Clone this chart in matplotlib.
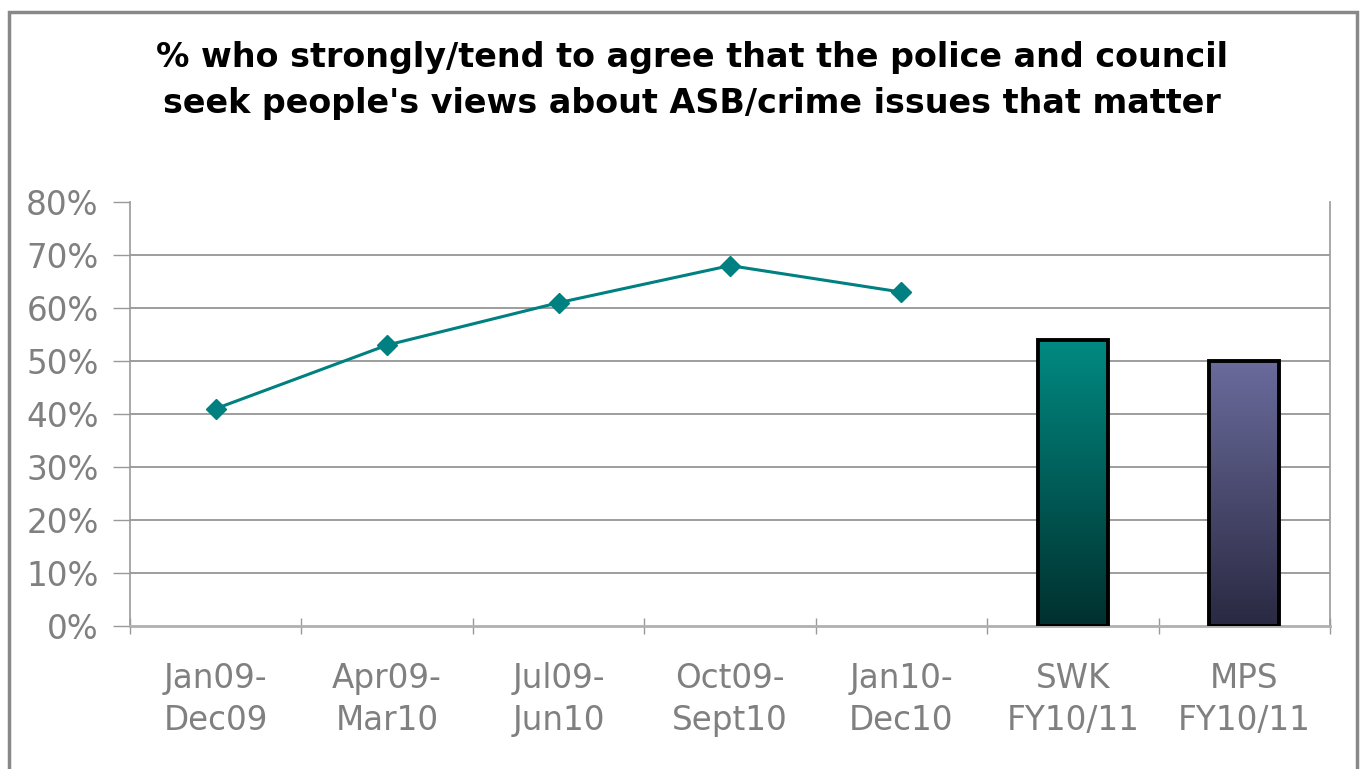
import numpy as np
import matplotlib.pyplot as plt
from matplotlib.colors import LinearSegmentedColormap
from matplotlib.patches import Rectangle

plt.rcParams['font.family'] = ['DejaVu Sans']

categories = ['Jan09-\nDec09', 'Apr09-\nMar10', 'Jul09-\nJun10', 'Oct09-\nSept10',
              'Jan10-\nDec10', 'SWK\nFY10/11', 'MPS\nFY10/11']
trend_values = [41, 53, 61, 68, 63]
bar_values = [54, 50]
bar_colors = [('#008a82', '#00302e'), ('#6a6b9c', '#2a2942')]
title = "% who strongly/tend to agree that the police and council\nseek people's views about ASB/crime issues that matter"

fig = plt.figure(figsize=(13.62, 7.69), dpi=100)
W, H = 1362, 769

# outer chart border
fig.patches.append(Rectangle((9 / W, -0.01), 1348 / W, 1 - 12 / H + 0.01,
                             transform=fig.transFigure, fill=False,
                             edgecolor='#888888', linewidth=2.5))

ax = fig.add_axes([130 / W, 1 - 626 / H, 1200 / W, 424 / H])
n = len(categories)

for y in range(10, 80, 10):
    ax.axhline(y, color='#8c8c8c', linewidth=1.2, zorder=0)

x_line = np.arange(len(trend_values))
ax.plot(x_line, trend_values, color='#008080', linewidth=2.2, marker='D',
        markersize=10, zorder=3)

bar_x = np.arange(len(trend_values), n)
bw = 0.41
for xi, val, (ctop, cbot) in zip(bar_x, bar_values, bar_colors):
    cmap = LinearSegmentedColormap.from_list('g', [cbot, ctop])
    grad = np.linspace(0, 1, 256).reshape(-1, 1)
    im = ax.imshow(grad, cmap=cmap, origin='lower', aspect='auto',
                   extent=(xi - bw / 2, xi + bw / 2, 0, val), zorder=2)
    rect = Rectangle((xi - bw / 2, 0), bw, val, facecolor='none',
                     edgecolor='black', linewidth=2.8, zorder=4)
    ax.add_patch(rect)
    im.set_clip_path(rect)

ax.set_xlim(-0.5, n - 0.5)
ax.set_ylim(0, 80)

ax.set_yticks(range(0, 81, 10))
ax.set_yticklabels([f'{v}%' for v in range(0, 81, 10)])
ax.set_xticks(np.arange(n))
ax.set_xticklabels(categories, linespacing=1.35)
ax.tick_params(axis='x', length=0, pad=26, labelsize=23.5, labelcolor='#808080')
ax.tick_params(axis='y', length=12, width=1, color='#999999', pad=10.5,
               labelsize=23.5, labelcolor='#808080')
ax.set_xticks(np.arange(-0.5, n, 1), minor=True)
ax.tick_params(axis='x', which='minor', length=11, width=1, color='#999999',
               direction='inout')

for s in ['left', 'right']:
    ax.spines[s].set_color('#999999')
    ax.spines[s].set_linewidth(1.2)
ax.spines['top'].set_visible(False)
ax.spines['bottom'].set_color('#b0b0b0')
ax.spines['bottom'].set_linewidth(2)

fig.text(0.508, 1 - 80 / H, title, ha='center', va='center', fontsize=24,
         fontweight='bold', linespacing=1.5)

fig.savefig('out.png', dpi=100)
